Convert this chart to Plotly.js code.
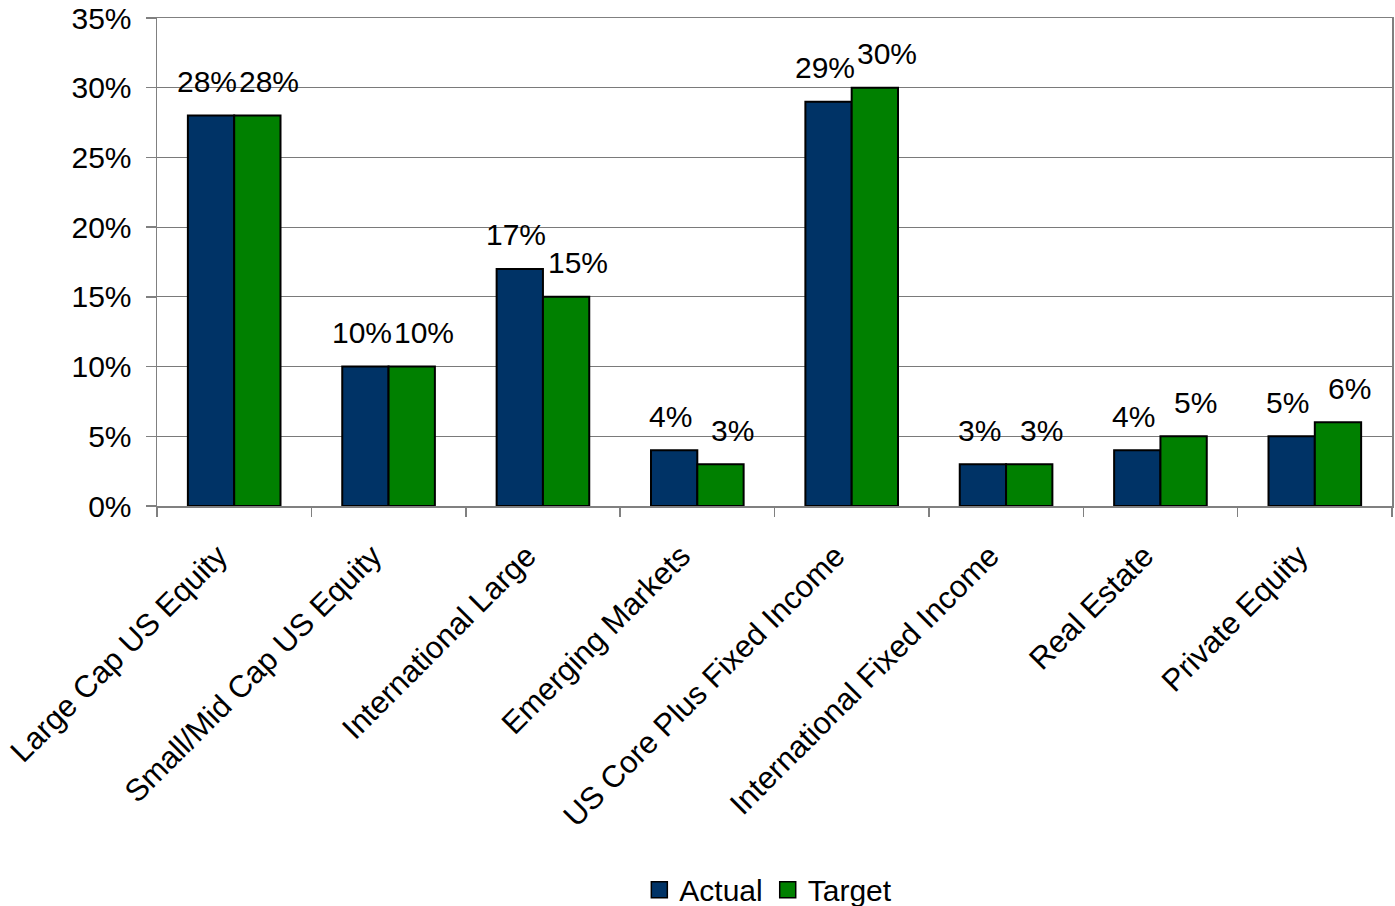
<!DOCTYPE html>
<html>
<head>
<meta charset="utf-8">
<script src="https://cdn.plot.ly/plotly-3.0.1.min.js"></script>
<style>html,body{margin:0;padding:0;background:#fff;}#chart{width:1395px;height:906px;}</style>
</head>
<body>
<div id="chart"></div>
<script>
const categories = ["Large Cap US Equity", "Small/Mid Cap US Equity", "International Large", "Emerging Markets", "US Core Plus Fixed Income", "International Fixed Income", "Real Estate", "Private Equity"];
const actualValues = [28, 10, 17, 4, 29, 3, 4, 5];
const targetValues = [28, 10, 15, 3, 30, 3, 5, 6];
const seriesNames = ["Actual", "Target"];

const FONT = "Liberation Sans, Arial, sans-serif";
const FS = 30;
const colors = ["#003366", "#008000"];

const barTraces = [actualValues, targetValues].map((vals, i) => ({
  type: "bar",
  name: seriesNames[i],
  x: categories,
  y: vals,
  showlegend: false,
  marker: {color: colors[i], line: {color: "#000000", width: 2}},
  hoverinfo: "none"
}));

// legend-only entries with square swatches (no point drawn: y is null)
const legendTraces = seriesNames.map((n, i) => ({
  type: "scatter", mode: "markers", name: n,
  x: [categories[0]], y: [null],
  marker: {symbol: "square", size: 16, color: colors[i], line: {color: "#000", width: 1.5}},
  hoverinfo: "none"
}));

const annotations = [];
[actualValues, targetValues].forEach((vals, i) => {
  vals.forEach((v, j) => {
    annotations.push({
      x: categories[j], y: v, xref: "x", yref: "y",
      text: v + "%", showarrow: false,
      xshift: i === 0 ? -27 : 35, yshift: 34,
      yanchor: "middle", xanchor: "center",
      font: {family: FONT, size: FS, color: "#000"}
    });
  });
});

const layout = {
  width: 1395, height: 906,
  margin: {l: 157, r: 3, t: 18, b: 400, autoexpand: false},
  paper_bgcolor: "#fff", plot_bgcolor: "#fff",
  barmode: "group", bargap: 0.4, bargroupgap: 0,
  font: {family: FONT, size: FS, color: "#000"},
  xaxis: {
    type: "category", automargin: false,
    showline: true, linecolor: "#808080", linewidth: 1.5, mirror: true,
    ticks: "outside", tickson: "boundaries", ticklen: 9, tickcolor: "#808080", tickwidth: 1.5,
    tickangle: -45, showgrid: false,
    ticklabelstandoff: 18, ticklabelshift: -16,
    tickfont: {family: FONT, size: 31, color: "#000"}
  },
  yaxis: {
    range: [0, 35], dtick: 5, ticksuffix: "%", automargin: false,
    showline: true, linecolor: "#808080", linewidth: 1.5, mirror: true,
    ticks: "outside", ticklen: 10, tickcolor: "#808080", tickwidth: 1.5,
    ticklabelstandoff: 8,
    showgrid: true, gridcolor: "#7a7a7a", gridwidth: 1,
    zeroline: false,
    tickfont: {family: FONT, size: FS, color: "#000"}
  },
  showlegend: true,
  legend: {
    orientation: "h", x: 0.495, xanchor: "center",
    yref: "container", y: 0.018, yanchor: "middle",
    font: {family: FONT, size: FS, color: "#000"},
    itemwidth: 30, tracegroupgap: 0, bgcolor: "rgba(0,0,0,0)"
  },
  annotations: annotations
};

Plotly.newPlot("chart", barTraces.concat(legendTraces), layout, {displayModeBar: false, staticPlot: true});
</script>
</body>
</html>
